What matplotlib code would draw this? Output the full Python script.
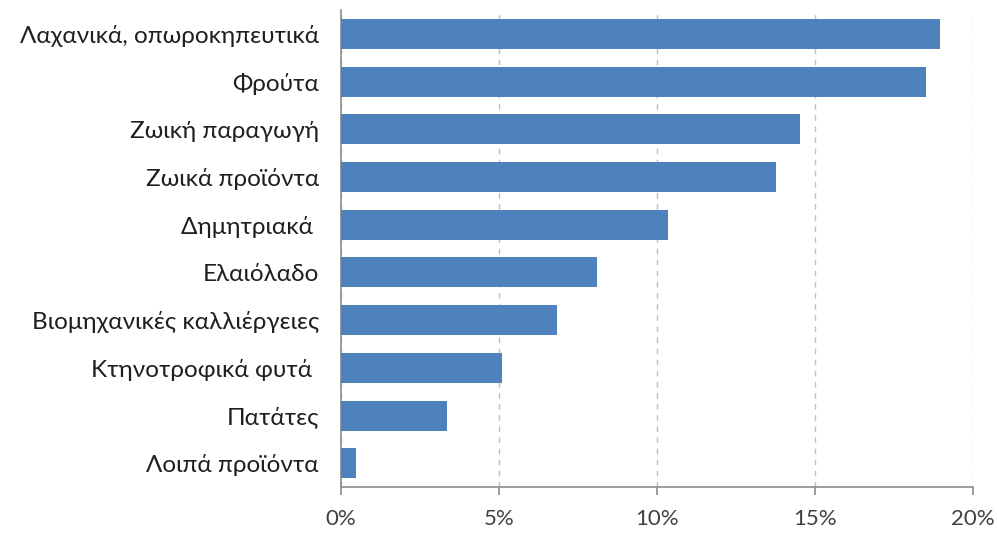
import matplotlib
matplotlib.use('Agg')
import matplotlib.pyplot as plt
from matplotlib.ticker import FuncFormatter

# κατηγορίες από πάνω προς τα κάτω
categories = ['Λαχανικά, οπωροκηπευτικά', 'Φρούτα', 'Ζωική παραγωγή', 'Ζωικά προϊόντα',
              'Δημητριακά ', 'Ελαιόλαδο', 'Βιομηχανικές καλλιέργειες',
              'Κτηνοτροφικά φυτά ', 'Πατάτες', 'Λοιπά προϊόντα']
shares = [18.95, 18.5, 14.52, 13.77, 10.35, 8.1, 6.84, 5.1, 3.37, 0.49]
xticks = [0, 5, 10, 15, 20]

plt.rcParams['font.family'] = ['Lato', 'DejaVu Sans']

fig = plt.figure(figsize=(9.97, 5.37), dpi=100)
ax = fig.add_axes([0.342, 0.093, 0.634, 0.888])

ypos = list(range(len(categories)))[::-1]
ax.barh(ypos, shares, height=0.63, color='#4f81bd', zorder=3)

ax.set_xlim(0, 20)
ax.set_ylim(-0.5, len(categories) - 0.5)
ax.set_xticks(xticks)
ax.xaxis.set_major_formatter(FuncFormatter(lambda v, p: '%d%%' % v))
ax.set_yticks(ypos)
ax.set_yticklabels(categories)

ax.grid(axis='x', linestyle=(0, (4, 4)), color='#adc0e8', linewidth=1, zorder=0)
for s in ['top', 'right']:
    ax.spines[s].set_visible(False)
for s in ['left', 'bottom']:
    ax.spines[s].set_color('#8c8c8c')
    ax.spines[s].set_linewidth(1.2)

ax.tick_params(axis='y', length=0, pad=16, labelsize=17.5, labelcolor='#1f1f1f')
ax.tick_params(axis='x', length=6, color='#8c8c8c', width=1.2, pad=10,
               labelsize=16, labelcolor='#404040')

fig.savefig('out.png', dpi=100)
